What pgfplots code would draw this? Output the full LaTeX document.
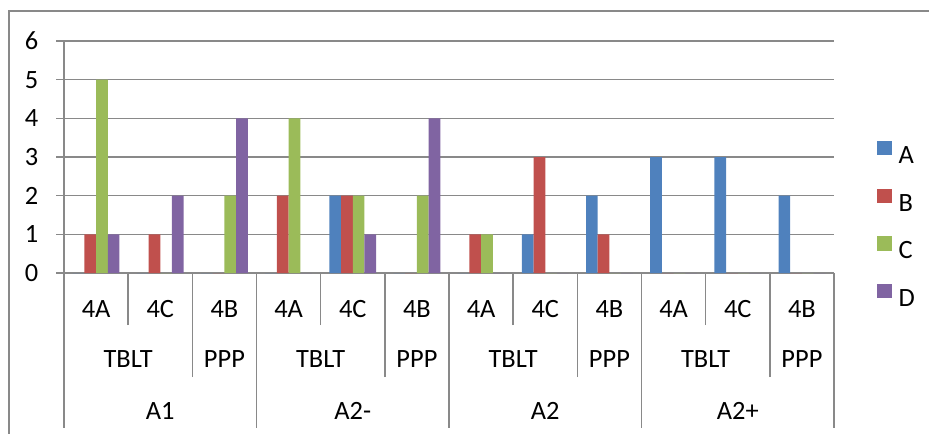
\documentclass[border=0pt]{standalone}
\usepackage{pgfplots}
\usepackage{pgfplotstable}
\pgfplotsset{compat=1.18}
\usepackage{fontspec}
\setmainfont{Carlito}
\definecolor{sA}{HTML}{4F81BD}
\definecolor{sB}{HTML}{C0504D}
\definecolor{sC}{HTML}{9BBB59}
\definecolor{sD}{HTML}{8064A2}
\definecolor{gridgray}{HTML}{898989}
\pgfplotstableread{
x A B C D
0 0 1 5 1
1 0 1 0 2
2 0 0 2 4
3 0 2 4 0
4 2 2 2 1
5 0 0 2 4
6 0 1 1 0
7 1 3 0 0
8 2 1 0 0
9 3 0 0 0
10 3 0 0 0
11 2 0 0 0
}\datatable
\newcommand{\lf}{\fontsize{26.5}{30}\selectfont}
\begin{document}
\begin{tikzpicture}
\useasboundingbox (0,0) rectangle (929bp,434bp);
\draw[gridgray, line width=1.6bp] (9bp,0) -- (9bp,423bp) -- (929bp,423bp);
\begin{axis}[
  at={(64bp,161bp)}, anchor=south west,
  scale only axis, width=770bp, height=232bp,
  xmin=-0.5, xmax=11.5, ymin=0, ymax=6,
  axis lines*=left,
  axis line style={gridgray, line width=1.6bp, -},
  clip=false,
  ybar=0pt, bar width=11.7bp,
  ytick={0,1,2,3,4,5,6},
  ymajorgrids,
  major grid style={gridgray, line width=1.6bp},
  tick align=outside,
  major tick length=8bp,
  tick style={gridgray, line width=1.6bp},
  xtick={0.5,3.5,6.5,9.5},
  xtick style={/pgfplots/major tick length=52bp},
  minor xtick={1.5,4.5,7.5,10.5},
  minor x tick style={/pgfplots/minor tick length=104bp},
  xticklabels={},
  /pgf/number format/assume math mode=true,
  yticklabel style={font=\lf, inner sep=0pt, anchor=east, xshift=-17.5bp},
  legend style={draw=none, fill=none, at={(axis description cs:1.0562,0.569)}, anchor=north west,
    font=\lf, inner sep=0pt, outer sep=0pt, row sep=23.5bp, column sep=7bp,
    nodes={inner sep=0pt, outer sep=0pt}},
  legend cell align=left,
  legend image code/.code={\fill[#1] (0bp,0.5bp) rectangle (14.4bp,14.9bp);},
]
\addplot[fill=sA, draw=none] table[x=x, y=A] {\datatable};
\addplot[fill=sB, draw=none] table[x=x, y=B] {\datatable};
\addplot[fill=sC, draw=none] table[x=x, y=C] {\datatable};
\addplot[fill=sD, draw=none] table[x=x, y=D] {\datatable};
\legend{A,B,C,D}
\draw[gridgray, line width=1.6bp] (axis cs:-0.5,0) -- ([yshift=-155bp]axis cs:-0.5,0);
\draw[gridgray, line width=1.6bp] (axis cs:2.5,0) -- ([yshift=-155bp]axis cs:2.5,0);
\draw[gridgray, line width=1.6bp] (axis cs:5.5,0) -- ([yshift=-155bp]axis cs:5.5,0);
\draw[gridgray, line width=1.6bp] (axis cs:8.5,0) -- ([yshift=-155bp]axis cs:8.5,0);
\draw[gridgray, line width=1.6bp] (axis cs:11.5,0) -- ([yshift=-155bp]axis cs:11.5,0);
\begin{scope}[every node/.style={font=\lf, anchor=base, inner sep=0pt}]
\node at (axis cs:0,0) [yshift=-44bp] {4A};
\node at (axis cs:1,0) [yshift=-44bp] {4C};
\node at (axis cs:2,0) [yshift=-44bp] {4B};
\node at (axis cs:3,0) [yshift=-44bp] {4A};
\node at (axis cs:4,0) [yshift=-44bp] {4C};
\node at (axis cs:5,0) [yshift=-44bp] {4B};
\node at (axis cs:6,0) [yshift=-44bp] {4A};
\node at (axis cs:7,0) [yshift=-44bp] {4C};
\node at (axis cs:8,0) [yshift=-44bp] {4B};
\node at (axis cs:9,0) [yshift=-44bp] {4A};
\node at (axis cs:10,0) [yshift=-44bp] {4C};
\node at (axis cs:11,0) [yshift=-44bp] {4B};
\node at (axis cs:0.5,0) [yshift=-94bp] {TBLT};
\node at (axis cs:2,0) [yshift=-94bp] {PPP};
\node at (axis cs:3.5,0) [yshift=-94bp] {TBLT};
\node at (axis cs:5,0) [yshift=-94bp] {PPP};
\node at (axis cs:6.5,0) [yshift=-94bp] {TBLT};
\node at (axis cs:8,0) [yshift=-94bp] {PPP};
\node at (axis cs:9.5,0) [yshift=-94bp] {TBLT};
\node at (axis cs:11,0) [yshift=-94bp] {PPP};
\node at (axis cs:1,0) [yshift=-146bp] {A1};
\node at (axis cs:4,0) [yshift=-146bp] {A2-};
\node at (axis cs:7,0) [yshift=-146bp] {A2};
\node at (axis cs:10,0) [yshift=-146bp] {A2+};
\end{scope}
\end{axis}
\end{tikzpicture}
\end{document}
